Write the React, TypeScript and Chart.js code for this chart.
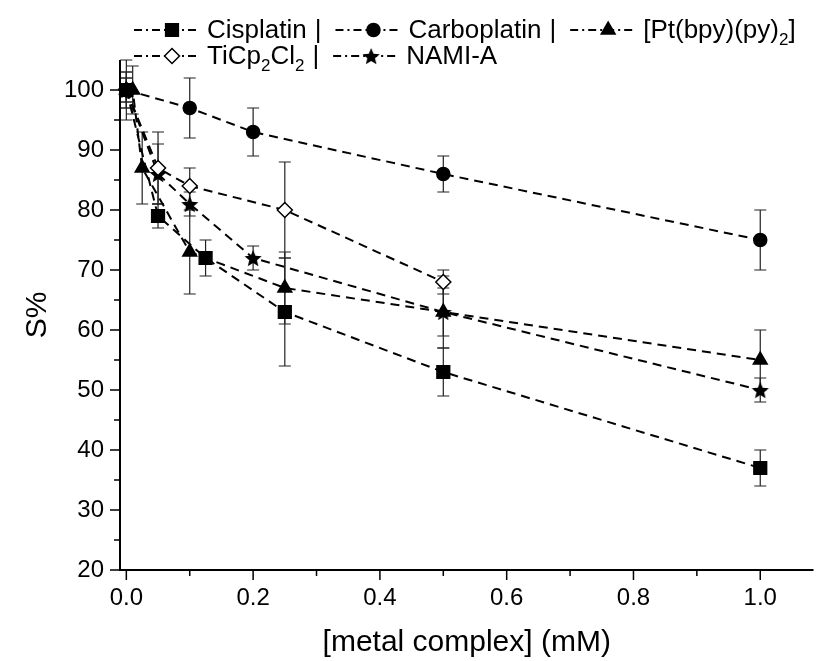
import React, { useEffect, useRef } from "react";
import { Chart, registerables } from "chart.js";

Chart.register(...registerables);

// ---------------- data ----------------
const cisX = [0, 0.05, 0.125, 0.25, 0.5, 1.0];
const cisY = [100, 79, 72, 63, 53, 37];
const cisErr = [3, 2, 3, 9, 4, 3];

const carbX = [0, 0.1, 0.2, 0.5, 1.0];
const carbY = [100, 97, 93, 86, 75];
const carbErr = [5, 5, 4, 3, 5];

const ptX = [0, 0.01, 0.025, 0.1, 0.25, 0.5, 1.0];
const ptY = [100, 100, 87, 73, 67, 63, 55];
const ptErr = [2, 4, 6, 7, 6, 6, 5];

const tiX = [0, 0.05, 0.1, 0.25, 0.5];
const tiY = [100, 87, 84, 80, 68];
const tiErr = [3, 6, 3, 8, 2];

const namiX = [0, 0.05, 0.1, 0.2, 0.5, 1.0];
const namiY = [100, 86, 81, 72, 63, 50];
const namiErr = [2, 5, 2, 2, 4, 2];

const xMajorTicks = [0, 0.2, 0.4, 0.6, 0.8, 1.0];
const xMinorTicks = [0.1, 0.3, 0.5, 0.7, 0.9];
const yMajorTicks = [20, 30, 40, 50, 60, 70, 80, 90, 100];
const yMinorTicks = [25, 35, 45, 55, 65, 75, 85, 95];

const xTitle = "[metal complex] (mM)";
const yTitle = "S%";

// legend label segments: [text, isSubscript]
const legendLabels: [string, boolean][][] = [
  [["Cisplatin", false]],
  [["Carboplatin", false]],
  [["[Pt(bpy)(py)", false], ["2", true], ["]", false]],
  [["TiCp", false], ["2", true], ["Cl", false], ["2", true]],
  [["NAMI-A", false]],
];

// ---------------- helpers ----------------
const FONT = '"Liberation Sans", Arial, Helvetica, sans-serif';

function starPath(g: CanvasRenderingContext2D, cx: number, cy: number, ro: number, ri: number) {
  g.beginPath();
  for (let i = 0; i < 10; i++) {
    const r = i % 2 === 0 ? ro : ri;
    const a = -Math.PI / 2 + (i * Math.PI) / 5;
    const px = cx + Math.cos(a) * r;
    const py = cy + Math.sin(a) * r;
    if (i === 0) g.moveTo(px, py);
    else g.lineTo(px, py);
  }
  g.closePath();
}

function makeStar(r: number): HTMLCanvasElement {
  const c = document.createElement("canvas");
  const s = Math.ceil(r * 2 + 2);
  c.width = s;
  c.height = s;
  const g = c.getContext("2d")!;
  starPath(g, s / 2, s / 2 + 1, r, r * 0.45);
  g.fillStyle = "#000";
  g.fill();
  return c;
}

function drawMarker(ctx: CanvasRenderingContext2D, style: any, r: number, fill: string, x: number, y: number) {
  ctx.save();
  ctx.fillStyle = fill;
  ctx.strokeStyle = "#000";
  ctx.lineWidth = 1.5;
  ctx.setLineDash([]);
  if (style instanceof HTMLCanvasElement) {
    ctx.drawImage(style, x - style.width / 2, y - style.height / 2);
    ctx.restore();
    return;
  }
  ctx.beginPath();
  if (style === "rect") {
    const s = Math.SQRT1_2 * r;
    ctx.rect(x - s, y - s, 2 * s, 2 * s);
  } else if (style === "circle") {
    ctx.arc(x, y, r, 0, Math.PI * 2);
  } else if (style === "triangle") {
    let a = 0;
    ctx.moveTo(x + Math.sin(a) * r, y - Math.cos(a) * r);
    a += (2 * Math.PI) / 3;
    ctx.lineTo(x + Math.sin(a) * r, y - Math.cos(a) * r);
    a += (2 * Math.PI) / 3;
    ctx.lineTo(x + Math.sin(a) * r, y - Math.cos(a) * r);
    ctx.closePath();
  } else if (style === "rectRot") {
    ctx.moveTo(x - r, y);
    ctx.lineTo(x, y - r);
    ctx.lineTo(x + r, y);
    ctx.lineTo(x, y + r);
    ctx.closePath();
  }
  ctx.fill();
  ctx.stroke();
  ctx.restore();
}

const errorBarPlugin = {
  id: "errorBars",
  beforeDatasetsDraw(chart: any) {
    const { ctx } = chart;
    const xs = chart.scales.x;
    const ys = chart.scales.y;
    ctx.save();
    ctx.strokeStyle = "#222";
    ctx.lineWidth = 1.2;
    ctx.setLineDash([]);
    chart.data.datasets.forEach((ds: any) => {
      const errs: number[] = ds.errors || [];
      ds.data.forEach((p: any, i: number) => {
        const e = errs[i];
        if (!e) return;
        const px = xs.getPixelForValue(p.x);
        const t = ys.getPixelForValue(p.y + e);
        const b = ys.getPixelForValue(p.y - e);
        ctx.beginPath();
        ctx.moveTo(px, t);
        ctx.lineTo(px, b);
        ctx.moveTo(px - 6, t);
        ctx.lineTo(px + 6, t);
        ctx.moveTo(px - 6, b);
        ctx.lineTo(px + 6, b);
        ctx.stroke();
      });
    });
    ctx.restore();
  },
};

const axesPlugin = {
  id: "axesLines",
  afterDatasetsDraw(chart: any) {
    const { ctx, chartArea } = chart;
    const xs = chart.scales.x;
    const ys = chart.scales.y;
    ctx.save();
    ctx.strokeStyle = "#000";
    ctx.lineWidth = 2;
    ctx.setLineDash([]);
    ctx.beginPath();
    ctx.moveTo(chartArea.left, chartArea.top);
    ctx.lineTo(chartArea.left, chartArea.bottom);
    ctx.lineTo(chartArea.right, chartArea.bottom);
    ctx.stroke();
    ctx.lineWidth = 1.5;
    ctx.beginPath();
    xMajorTicks.forEach((v) => {
      const px = xs.getPixelForValue(v);
      ctx.moveTo(px, chartArea.bottom);
      ctx.lineTo(px, chartArea.bottom + 10);
    });
    xMinorTicks.forEach((v) => {
      const px = xs.getPixelForValue(v);
      ctx.moveTo(px, chartArea.bottom);
      ctx.lineTo(px, chartArea.bottom + 6);
    });
    yMajorTicks.forEach((v) => {
      const py = ys.getPixelForValue(v);
      ctx.moveTo(chartArea.left, py);
      ctx.lineTo(chartArea.left - 10, py);
    });
    yMinorTicks.forEach((v) => {
      const py = ys.getPixelForValue(v);
      ctx.moveTo(chartArea.left, py);
      ctx.lineTo(chartArea.left - 6, py);
    });
    ctx.stroke();
    ctx.restore();
  },
};

const legendPlugin = {
  id: "customLegend",
  afterDraw(chart: any) {
    const { ctx } = chart;
    const ds = chart.data.datasets;
    const rows = [
      { y: 30, x: 134, items: [0, 1, 2] },
      { y: 56, x: 134, items: [3, 4] },
    ];
    const mainFont = `26px ${FONT}`;
    const subFont = `17px ${FONT}`;
    ctx.save();
    rows.forEach((row) => {
      let cx = row.x;
      row.items.forEach((idx, k) => {
        const d = ds[idx];
        // sample line: dash-dot pattern with marker
        ctx.strokeStyle = "#000";
        ctx.lineWidth = 2;
        ctx.setLineDash([8, 4, 2, 4]);
        ctx.beginPath();
        ctx.moveTo(cx, row.y);
        ctx.lineTo(cx + 66, row.y);
        ctx.stroke();
        ctx.setLineDash([]);
        drawMarker(ctx, d.pointStyle, d.pointRadius, d.pointBackgroundColor, cx + 38, row.y);
        cx += 73;
        ctx.fillStyle = "#000";
        ctx.textBaseline = "middle";
        ctx.textAlign = "left";
        legendLabels[idx].forEach(([t, sub]) => {
          ctx.font = sub ? subFont : mainFont;
          ctx.fillText(t, cx, row.y + 1 + (sub ? 9 : 0));
          cx += ctx.measureText(t).width;
        });
        if (k < row.items.length - 1) {
          ctx.font = mainFont;
          cx += 8;
          ctx.fillText("|", cx, row.y + 1);
          cx += ctx.measureText("|").width + 14;
        }
      });
    });
    ctx.restore();
  },
};

function pts(xs: number[], ys: number[]) {
  return xs.map((x, i) => ({ x, y: ys[i] }));
}

export default function App() {
  const ref = useRef<HTMLCanvasElement>(null);

  useEffect(() => {
    if (!ref.current) return;
    const star = makeStar(9);
    const base = {
      showLine: true,
      borderColor: "#000",
      borderWidth: 2,
      borderDash: [9, 6],
      pointBorderColor: "#000",
      pointBorderWidth: 1.5,
      pointHoverRadius: 0,
      clip: false as any,
      tension: 0,
    };
    const chart = new Chart(ref.current, {
      type: "scatter",
      data: {
        datasets: [
          { ...base, label: "Cisplatin", data: pts(cisX, cisY), errors: cisErr, pointStyle: "rect", pointRadius: 9, pointBackgroundColor: "#000" } as any,
          { ...base, label: "Carboplatin", data: pts(carbX, carbY), errors: carbErr, pointStyle: "circle", pointRadius: 6.5, pointBackgroundColor: "#000" } as any,
          { ...base, label: "[Pt(bpy)(py)2]", data: pts(ptX, ptY), errors: ptErr, pointStyle: "triangle", pointRadius: 8, pointBackgroundColor: "#000" } as any,
          { ...base, label: "TiCp2Cl2", data: pts(tiX, tiY), errors: tiErr, pointStyle: "rectRot", pointRadius: 7.5, pointBackgroundColor: "#fff" } as any,
          { ...base, label: "NAMI-A", data: pts(namiX, namiY), errors: namiErr, pointStyle: star, pointRadius: 9, pointBackgroundColor: "#000" } as any,
        ],
      },
      options: {
        responsive: false,
        devicePixelRatio: 1,
        animation: false,
        layout: { padding: { top: 60, right: 0, bottom: 0, left: 0 } },
        plugins: { legend: { display: false }, tooltip: { enabled: false } },
        scales: {
          x: {
            type: "linear",
            min: -0.01,
            max: 1.084,
            afterBuildTicks: (s: any) => {
              s.ticks = xMajorTicks.map((v) => ({ value: v }));
            },
            afterFit: (s: any) => {
              s.height = 91;
            },
            grid: { display: false, drawTicks: true, tickLength: 10 },
            border: { display: false },
            ticks: {
              color: "#000",
              font: { family: FONT, size: 24 },
              padding: 4,
              maxRotation: 0,
              autoSkip: false,
              callback: (v: any) => Number(v).toFixed(1),
            },
            title: {
              display: true,
              text: xTitle,
              color: "#000",
              font: { family: FONT, size: 30 },
              padding: { top: 0, bottom: 0 },
            },
          },
          y: {
            type: "linear",
            min: 20,
            max: 105,
            afterBuildTicks: (s: any) => {
              s.ticks = yMajorTicks.map((v) => ({ value: v }));
            },
            afterFit: (s: any) => {
              s.width = 120;
            },
            grid: { display: false, drawTicks: true, tickLength: 10 },
            border: { display: false },
            ticks: {
              color: "#000",
              font: { family: FONT, size: 24 },
              padding: 6,
              autoSkip: false,
              callback: (v: any) => String(v),
            },
            title: {
              display: true,
              text: yTitle,
              color: "#000",
              font: { family: FONT, size: 30 },
              padding: { top: 20, bottom: 0 },
            },
          },
        },
      } as any,
      plugins: [errorBarPlugin, axesPlugin, legendPlugin],
    });
    return () => chart.destroy();
  }, []);

  return (
    <div style={{ position: "absolute", left: 0, top: 0, width: 824, height: 661, background: "#fff" }}>
      <canvas ref={ref} width={824} height={661} style={{ display: "block" }} />
    </div>
  );
}
